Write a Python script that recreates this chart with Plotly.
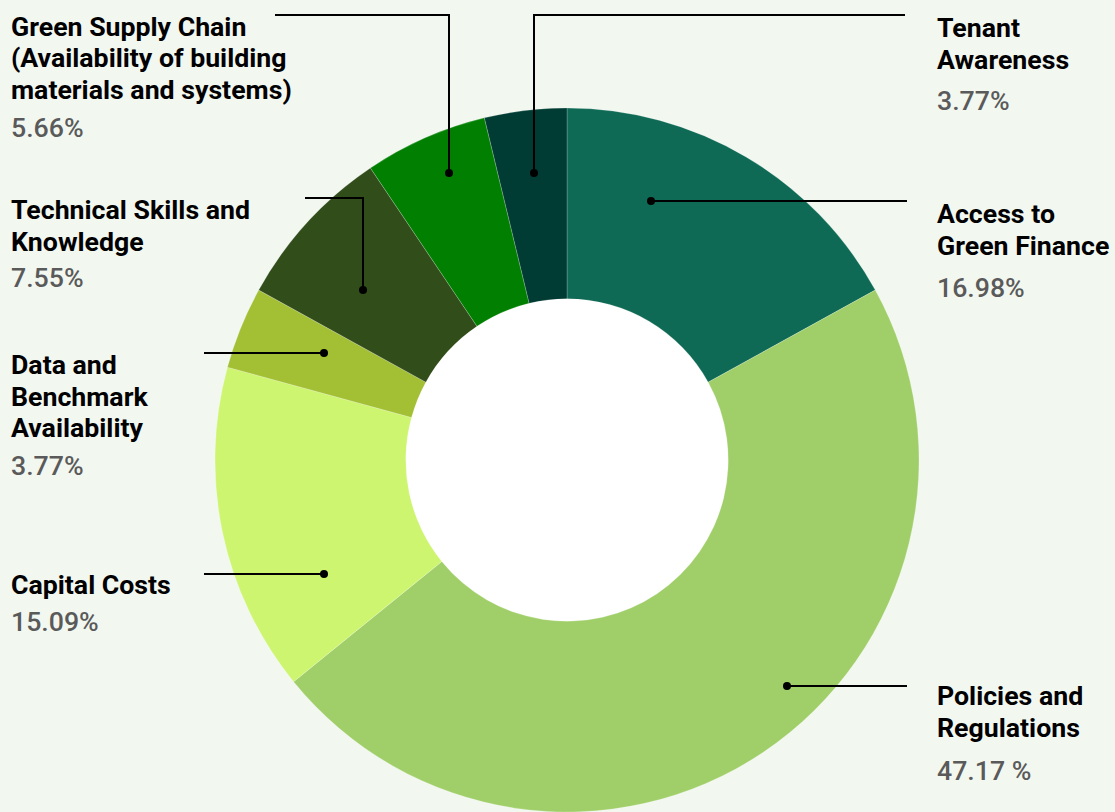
import plotly.graph_objects as go

W, H = 1115, 812

categories = [
    "Access to Green Finance",
    "Policies and Regulations",
    "Capital Costs",
    "Data and Benchmark Availability",
    "Technical Skills and Knowledge",
    "Green Supply Chain (Availability of building materials and systems)",
    "Tenant Awareness",
]
values = [16.98, 47.17, 15.09, 3.77, 7.55, 5.66, 3.77]
pct_labels = ["16.98%", "47.17 %", "15.09%", "3.77%", "7.55%", "5.66%", "3.77%"]
name_lines = [
    ["Access to", "Green Finance"],
    ["Policies and", "Regulations"],
    ["Capital Costs"],
    ["Data and", "Benchmark", "Availability"],
    ["Technical Skills and", "Knowledge"],
    ["Green Supply Chain", "(Availability of building", "materials and systems)"],
    ["Tenant", "Awareness"],
]
colors = ["#0e6a55", "#a0cf69", "#cdf56f", "#a3bf33", "#314d1a", "#007f00", "#003c33"]

# label placement (pixels): x of text, y-centre of first name line, y-centre of percentage
label_pos = [
    (935, 214, 288),
    (935, 696, 771),
    (9, 585, 622),
    (9, 365, 466),
    (9, 210, 278),
    (9, 27, 128),
    (935, 28, 101),
]
LINE_GAP = 31.5
# leader lines (pixels): polyline points, the first point is the dot
leaders = [
    [(651, 201), (907, 201)],
    [(787, 686), (907, 686)],
    [(324, 574), (204, 574)],
    [(324, 353), (204, 353)],
    [(363, 290), (363, 198), (305, 198)],
    [(449, 173), (449, 15), (275, 15)],
    [(534, 173), (534, 15), (905, 15)],
]

def px(x):
    return x / W

def py(y):
    return 1 - y / H

cx, cy, r, hole = 567, 460, 352, 0.458

fig = go.Figure()
fig.add_trace(go.Pie(
    labels=categories,
    values=values,
    sort=False,
    direction="clockwise",
    rotation=0,
    hole=hole,
    marker=dict(colors=colors, line=dict(color="rgba(255,255,255,0.35)", width=0.6)),
    textinfo="none",
    hoverinfo="label+percent",
    showlegend=False,
    domain=dict(x=[px(cx - r), px(cx + r)], y=[py(cy + r), py(cy - r)]),
))

shapes = []
ri = r * hole + 1
shapes.append(dict(type="circle", xref="paper", yref="paper", layer="below",
                   x0=px(cx - ri), x1=px(cx + ri), y0=py(cy + ri), y1=py(cy - ri),
                   fillcolor="#ffffff", line=dict(width=0)))
for pts in leaders:
    path = "M " + " L ".join(f"{px(x)},{py(y)}" for x, y in pts)
    shapes.append(dict(type="path", xref="paper", yref="paper", path=path,
                       line=dict(color="#000000", width=2)))
    dx, dy = pts[0]
    shapes.append(dict(type="circle", xref="paper", yref="paper",
                       x0=px(dx - 4), x1=px(dx + 4), y0=py(dy + 4), y1=py(dy - 4),
                       fillcolor="#000000", line=dict(width=0)))

annotations = []
for lines, pct, (x, y1, yp) in zip(name_lines, pct_labels, label_pos):
    for i, line in enumerate(lines):
        annotations.append(dict(text=line, x=px(x), y=py(y1 + i * LINE_GAP),
                                xref="paper", yref="paper",
                                xanchor="left", yanchor="middle", align="left", showarrow=False,
                                font=dict(family="Roboto", size=26.7, color="#000000", weight=700)))
    annotations.append(dict(text=pct, x=px(x), y=py(yp), xref="paper", yref="paper",
                            xanchor="left", yanchor="middle", align="left", showarrow=False,
                            font=dict(family="Roboto", size=26.7, color="#5a5a5a", weight=500)))

fig.update_layout(
    width=W, height=H,
    margin=dict(l=0, r=0, t=0, b=0),
    paper_bgcolor="#f2f7f0",
    plot_bgcolor="#f2f7f0",
    shapes=shapes,
    annotations=annotations,
)

fig.write_html("out.html", config={"displayModeBar": False},
               post_script="document.body.style.margin='0';document.body.style.background='#f2f7f0';")
